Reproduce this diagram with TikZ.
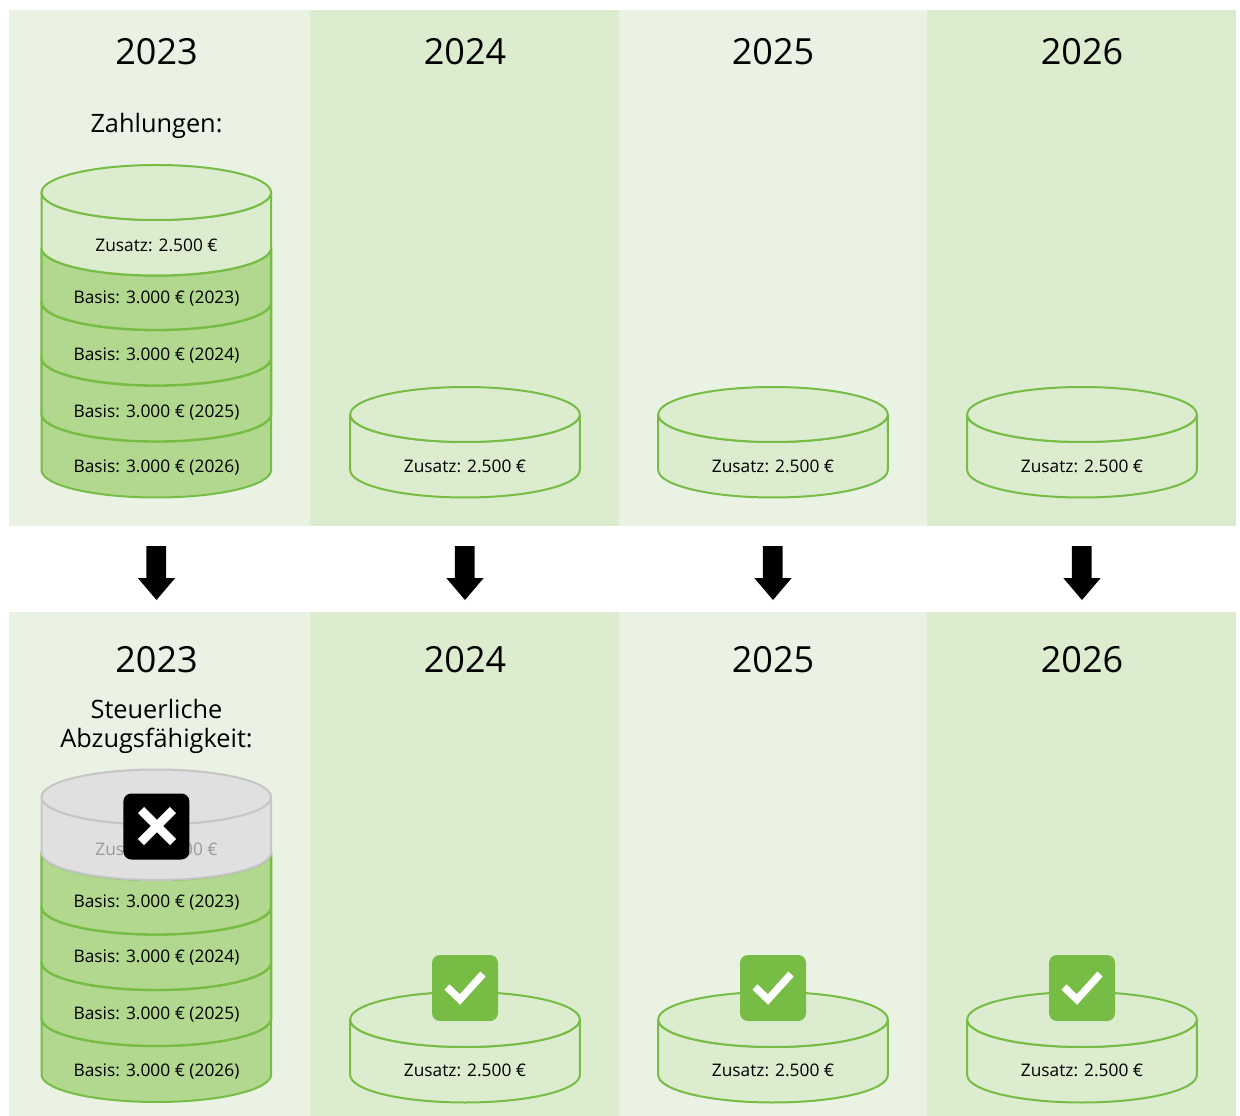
\documentclass[tikz,border=0pt]{standalone}
\usepackage{fontspec}
\setmainfont{Open Sans}
\definecolor{panelA}{HTML}{EAF2E3}
\definecolor{panelB}{HTML}{DCECCF}
\definecolor{basisfill}{HTML}{B2D78F}
\definecolor{zusfill}{HTML}{DCECCF}
\definecolor{cylline}{HTML}{76BC45}
\definecolor{greyfill}{HTML}{DFE0DF}
\definecolor{greyline}{HTML}{C6C6C6}
\definecolor{greytext}{HTML}{9B9B9B}
\tikzset{
  x=0.75pt,y=-0.75pt,
  yearlabel/.style={font=\fontsize{27}{30}\selectfont,text=black,inner sep=0pt,anchor=center},
  headlabel/.style={font=\fontsize{19}{21.75}\selectfont,text=black,inner sep=0pt,anchor=center,align=center},
  amount/.style={font=\fontsize{13}{15}\selectfont,text=black,inner sep=0pt,anchor=center},
  cyl/.style={draw=cylline,line width=1.5pt,fill=basisfill,line join=round},
  cylthick/.style={cyl,line width=1.75pt},
  cylz/.style={cyl,fill=zusfill},
  cylg/.style={cyl,draw=greyline,fill=greyfill},
  badge/.style={rounded corners=6pt},
  downarrow/.style={fill=black},
}
% layer: cx, side-top y, side-bottom y, style
\newcommand{\cyllayer}[4]{%
  \path[#4] (#1-114.8,#2) -- (#1-114.8,#3) arc[start angle=180,end angle=360,x radius=114.8,y radius=-27.5] -- (#1+114.8,#2) arc[start angle=0,end angle=180,x radius=114.8,y radius=27.5] -- cycle;}
\newcommand{\cyltop}[3]{%
  \path[#3] (#1,#2) ellipse[x radius=114.8,y radius=27.5];}
\newcommand{\stack}[2]{%
  \cyllayer{#1}{#2+414}{#2+470}{cyl}
  \cyllayer{#1}{#2+358}{#2+414}{cylthick}
  \cyllayer{#1}{#2+302.5}{#2+358}{cylthick}
  \cyllayer{#1}{#2+248}{#2+302.5}{cylthick}
}
\newcommand{\smallcyl}[2]{%
  \cyllayer{#1}{#2+414.5}{#2+470}{cylz}
  \cyltop{#1}{#2+414.5}{cylz}
}
\newcommand{\downarr}[1]{%
  \fill[downarrow] (#1-10.2,546) -- (#1+9.6,546) -- (#1+9.6,578) -- (#1+18.7,578) -- (#1,600) -- (#1-18.7,578) -- (#1-10.2,578) -- cycle;}
\newcommand{\checkbadge}[2]{%
  \fill[cylline,badge] (#1-33,#2-33) rectangle (#1+33,#2+33);
  \draw[white,line width=5.5pt] (#1-18,#2-1) -- (#1-5,#2+11.5) -- (#1+18,#2-14);}
\begin{document}
\begin{tikzpicture}
\useasboundingbox (0,0) rectangle (1240,1116);
\fill[white] (0,0) rectangle (1240,1116);
% panels
\foreach \yt/\yb in {10/526,612/1116}{
  \fill[panelA] (9,\yt) rectangle (310,\yb);
  \fill[panelB] (310,\yt) rectangle (619,\yb);
  \fill[panelA] (619,\yt) rectangle (927,\yb);
  \fill[panelB] (927,\yt) rectangle (1236,\yb);
}
% years
\node[yearlabel] (ya23) at (156.5,52) {2023};
\node[yearlabel] (ya24) at (465,52) {2024};
\node[yearlabel] (ya25) at (773,52) {2025};
\node[yearlabel] (ya26) at (1082,52) {2026};
\node[yearlabel] (yb23) at (156.5,660) {2023};
\node[yearlabel] (yb24) at (465,660) {2024};
\node[yearlabel] (yb25) at (773,660) {2025};
\node[yearlabel] (yb26) at (1082,660) {2026};
\node[headlabel] (pay) at (156.5,126) {Zahlungen:};
\node[headlabel] (tax) at (156.5,726) {Steuerliche\\Abzugsfähigkeit:};
% upper stack
\stack{156.3}{0}
\cyllayer{156.3}{192.5}{248}{cylz}
\cyltop{156.3}{192.5}{cylz}
\node[amount] (ua) at (156.5,245) {Zusatz: 2.500 €};
\node[amount] (ub) at (156.5,299) {Basis: 3.000 € (2023)};
\node[amount] (uc) at (156.5,356) {Basis: 3.000 € (2024)};
\node[amount] (ud) at (156.5,413) {Basis: 3.000 € (2025)};
\node[amount] (ue) at (156.5,468) {Basis: 3.000 € (2026)};
% upper single cylinders
\smallcyl{465}{0}
\smallcyl{773}{0}
\smallcyl{1082}{0}
\node[amount] (u24) at (465,466) {Zusatz: 2.500 €};
\node[amount] (u25) at (773,466) {Zusatz: 2.500 €};
\node[amount] (u26) at (1082,466) {Zusatz: 2.500 €};
% arrows
\downarr{156.5}
\downarr{465}
\downarr{773}
\downarr{1082}
% lower stack
\stack{156.3}{604.5}
\cyllayer{156.3}{797}{852.5}{cylg}
\cyltop{156.3}{797}{cylg}
\node[amount,text=greytext] (la) at (156.5,849) {Zusatz: 2.500 €};
\node[amount] (lb) at (156.5,903) {Basis: 3.000 € (2023)};
\node[amount] (lc) at (156.5,958) {Basis: 3.000 € (2024)};
\node[amount] (ld) at (156.5,1015) {Basis: 3.000 € (2025)};
\node[amount] (le) at (156.5,1072) {Basis: 3.000 € (2026)};
\fill[black,badge] (123.4,793.5) rectangle (189.4,859.5);
\draw[white,line width=6.5pt] (141,810) -- (173,842) (173,810) -- (141,842);
% lower single cylinders
\smallcyl{465}{605}
\smallcyl{773}{605}
\smallcyl{1082}{605}
\node[amount] (l24) at (465,1070) {Zusatz: 2.500 €};
\node[amount] (l25) at (773,1070) {Zusatz: 2.500 €};
\node[amount] (l26) at (1082,1070) {Zusatz: 2.500 €};
\checkbadge{465}{988}
\checkbadge{773}{988}
\checkbadge{1082}{988}
\end{tikzpicture}
\end{document}
